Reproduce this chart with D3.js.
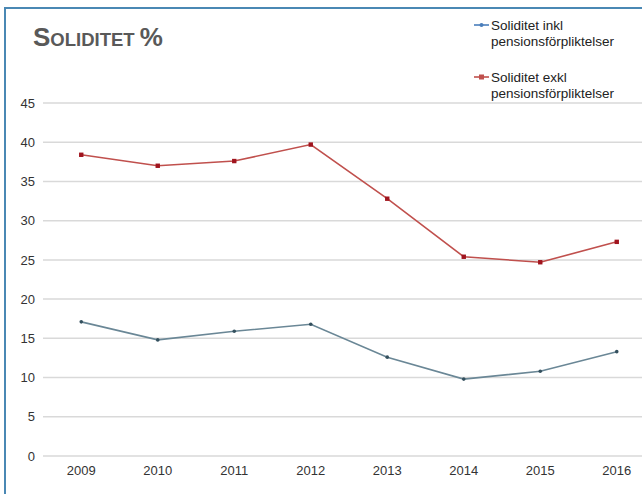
<!DOCTYPE html>
<html><head><meta charset="utf-8">
<script src="https://cdn.jsdelivr.net/npm/d3@7"></script>
<style>body{margin:0;background:#fff}svg{display:block}</style>
</head><body>
<svg id="c" width="642" height="494"></svg>
<script>
const years = ["2009","2010","2011","2012","2013","2014","2015","2016"];
const inkl = [17.1,14.8,15.9,16.8,12.6,9.8,10.8,13.3];
const exkl = [38.4,37.0,37.6,39.7,32.8,25.4,24.7,27.3];
const yTicks = [0,5,10,15,20,25,30,35,40,45];
const seriesNames = ["Soliditet inkl pensionsförpliktelser","Soliditet exkl pensionsförpliktelser"];

const svg = d3.select("#c");
const font = "'Liberation Sans', Arial, sans-serif";

// frame
svg.append("rect").attr("x",5).attr("y",8).attr("width",700).attr("height",600)
  .attr("fill","none").attr("stroke","#4a88b4").attr("stroke-width",2);

const x = d3.scaleBand().domain(years).range([43, 655]);
const y = d3.scaleLinear().domain([0,45]).range([456, 103]);

// grid
svg.append("g").selectAll("line").data(yTicks).join("line")
  .attr("x1",43).attr("x2",642).attr("y1",d=>y(d)).attr("y2",d=>y(d))
  .attr("stroke","#d9d9d9").attr("stroke-width",1.5);

// y axis labels
const ya = svg.append("g").attr("transform","translate(35,0)")
  .call(d3.axisLeft(y).tickValues(yTicks).tickSize(0).tickPadding(0));
ya.select(".domain").remove();
ya.selectAll("text").attr("font-family",font).attr("font-size",13).attr("fill","#333");

// x axis labels
const xa = svg.append("g").attr("transform","translate(0,463)")
  .call(d3.axisBottom(x).tickSize(0).tickPadding(0));
xa.select(".domain").remove();
xa.selectAll("text").attr("font-family",font).attr("font-size",13).attr("fill","#333").attr("dy","0.9em");

const cx = d => x(d) + x.bandwidth()/2;
const line = vals => d3.line().x((v,i)=>cx(years[i])).y(v=>y(v))(vals);

// inkl series
svg.append("path").attr("d",line(inkl)).attr("fill","none").attr("stroke","#6a8796").attr("stroke-width",1.6);
svg.append("g").selectAll("circle").data(inkl).join("circle")
  .attr("cx",(v,i)=>cx(years[i])).attr("cy",v=>y(v)).attr("r",1.8).attr("fill","#34505e");

// exkl series
svg.append("path").attr("d",line(exkl)).attr("fill","none").attr("stroke","#c0504d").attr("stroke-width",1.6);
svg.append("g").selectAll("rect").data(exkl).join("rect")
  .attr("x",(v,i)=>cx(years[i])-2.2).attr("y",v=>y(v)-2.2).attr("width",4.4).attr("height",4.4).attr("fill","#a0141e");

// title
const t = svg.append("text").attr("x",33).attr("y",46).attr("font-family",font)
  .attr("font-weight","bold").attr("fill","#595959");
t.append("tspan").attr("font-size",26).text("S");
t.append("tspan").attr("font-size",18.5).text("OLIDITET ");
t.append("tspan").attr("font-size",26).text("%");

// legend
const leg = [
  {name:seriesNames[0], color:"#4a7ebb", y:25, marker:"circle"},
  {name:seriesNames[1], color:"#c0504d", y:77, marker:"rect"}
];
leg.forEach(l=>{
  svg.append("line").attr("x1",474).attr("x2",489).attr("y1",l.y).attr("y2",l.y)
    .attr("stroke",l.color).attr("stroke-width",1.6);
  if(l.marker==="circle"){
    svg.append("circle").attr("cx",481.5).attr("cy",l.y).attr("r",2).attr("fill",l.color);
  } else {
    svg.append("rect").attr("x",479).attr("y",l.y-2.5).attr("width",5).attr("height",5).attr("fill",l.color);
  }
  const parts = l.name.split(" pens");
  const tx = svg.append("text").attr("font-family",font).attr("font-size",13.5).attr("fill","#222");
  tx.append("tspan").attr("x",491).attr("y",l.y+5).text(parts[0]);
  tx.append("tspan").attr("x",491).attr("y",l.y+21).text("pens"+parts[1]);
});
</script>
</body></html>
